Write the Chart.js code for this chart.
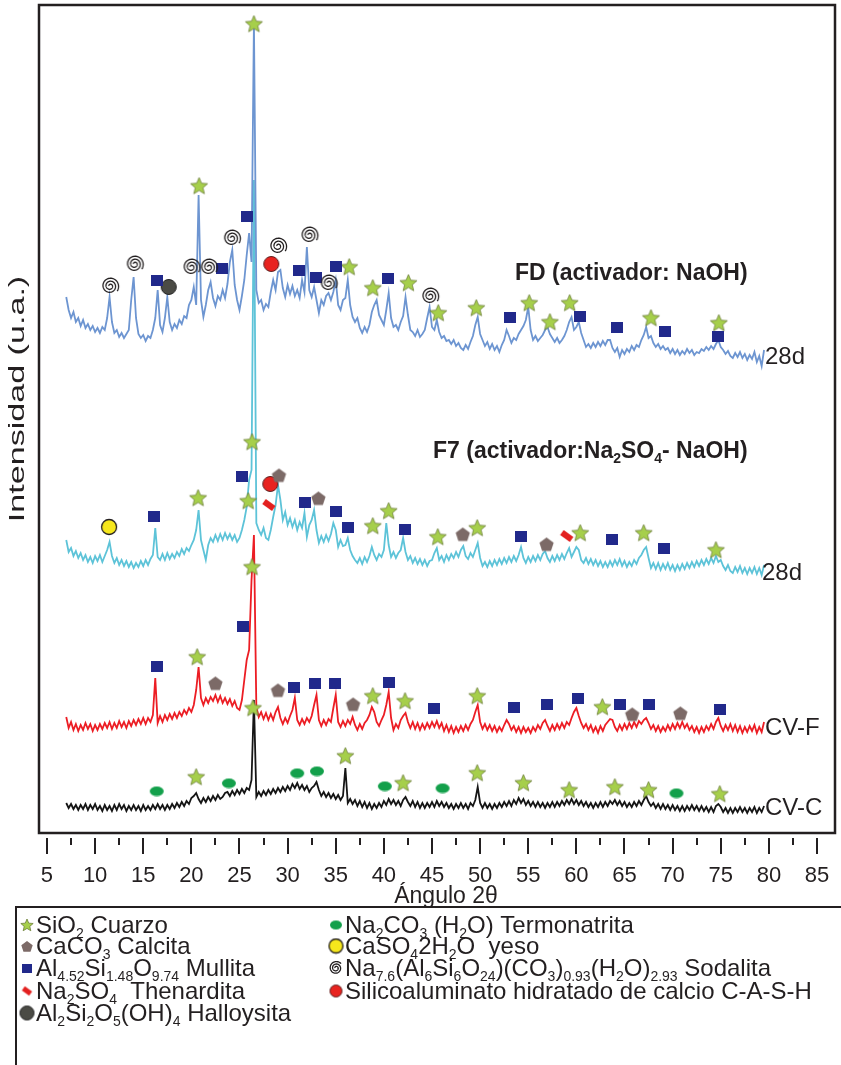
<!DOCTYPE html>
<html>
<head>
<meta charset="utf-8">
<script src="https://cdn.jsdelivr.net/npm/chart.js@4.4.1/dist/chart.umd.min.js"></script>
<style>
  html, body { margin: 0; padding: 0; background: #fff; }
  #xrd { display: block; }
</style>
</head>
<body>
<canvas id="xrd" width="841" height="1065"></canvas>
<script>
// scan grid of the diffractograms (2theta, degrees)
const scanStart = 7.0;
const scanStep = 0.25;

// intensities (u.a., already stacked), one value per step, 20 values = 5 degrees per row
const fdNaOH = [
  536,523,515,521,511,515,507,513,505,509,503,507,501,505,500,506,503,515,536,511,
  500,503,496,500,495,499,503,533,556,515,499,495,498,492,497,495,503,515,543,508,
  501,515,536,511,503,509,505,513,509,517,515,528,533,546,528,638,533,516,528,543,
  551,535,527,537,533,543,535,549,571,583,548,533,523,537,553,578,600,571,811,543,
  530,533,523,529,526,541,553,543,561,563,545,536,548,539,547,537,543,535,553,541,
  586,543,536,546,533,520,533,528,537,540,533,541,553,528,523,533,535,553,528,516,
  511,515,505,500,506,501,508,521,528,533,518,513,508,523,540,515,506,508,503,511,
  517,536,518,503,501,497,503,496,499,503,515,526,506,503,513,501,495,497,492,493,
  489,493,487,490,485,483,488,484,491,497,508,516,499,493,487,491,484,489,483,487,
  481,488,493,503,497,490,495,493,499,503,507,513,526,503,493,497,492,495,498,503,
  506,499,495,491,495,490,493,497,503,511,516,503,506,511,500,493,486,489,485,490,
  486,491,487,492,488,493,493,485,481,485,476,483,479,484,481,487,483,488,486,493,
  498,506,495,497,490,486,489,484,487,483,485,480,484,479,483,478,482,479,484,480,
  483,478,481,480,484,482,486,483,487,484,489,493,486,483,479,482,477,475,480,476,
  481,475,479,473,478,474,481,471,477,467,483
];
const f7Na2SO4 = [
  293,281,285,277,282,275,280,273,278,271,276,270,277,272,278,271,277,283,291,277,
  270,275,268,273,267,272,266,271,265,270,266,272,267,273,268,274,278,305,276,273,
  279,273,280,274,279,275,281,277,284,279,285,282,288,293,303,323,293,283,273,288,
  295,291,298,292,299,293,300,294,299,293,298,291,295,303,313,326,353,363,653,310,
  303,298,305,295,293,303,316,328,348,333,313,321,308,315,306,313,303,311,305,320,
  296,308,313,323,303,290,297,291,298,292,299,310,303,286,293,287,288,295,283,277,
  273,270,275,269,276,271,277,286,278,273,279,276,283,310,288,276,281,275,280,283,
  295,281,273,277,270,275,269,274,268,273,267,272,273,280,285,273,277,271,278,273,
  279,275,281,276,283,287,277,274,280,276,283,290,275,267,271,266,272,267,273,268,
  274,269,275,270,276,271,277,272,278,286,275,270,276,271,277,272,278,273,279,282,
  275,271,277,272,278,273,279,274,280,285,276,281,286,283,273,270,275,269,274,268,
  273,267,272,266,271,266,272,267,273,268,274,267,272,266,271,267,273,269,275,278,
  283,286,275,265,270,264,270,263,269,264,270,263,268,262,268,263,269,264,270,265,
  271,266,272,267,273,268,274,269,275,270,277,271,273,267,263,268,262,260,266,261,
  267,260,265,259,265,260,266,259,265,258,268
];
const cvF = [
  116,105,111,103,109,102,108,103,110,104,109,102,108,103,109,104,110,105,111,104,
  110,105,112,106,111,105,112,107,113,108,114,109,115,109,115,111,118,155,110,117,
  111,118,113,119,114,120,115,121,117,123,119,125,121,128,143,166,135,128,135,130,
  136,132,138,131,137,130,135,129,134,127,132,125,123,133,153,173,183,253,298,126,
  116,121,114,120,113,119,113,121,126,115,109,115,110,117,123,135,113,108,114,109,
  115,111,117,128,138,113,107,113,108,114,111,125,138,111,106,112,107,113,109,116,
  108,103,109,104,110,113,118,126,121,111,107,113,118,128,141,115,103,109,105,113,
  117,120,111,105,111,104,110,103,109,104,110,105,111,106,112,105,110,102,108,101,
  107,100,106,101,107,102,108,103,109,113,121,128,111,104,109,103,108,102,107,101,
  106,102,108,113,109,103,107,101,106,100,106,101,105,100,106,102,108,104,110,113,
  107,102,108,103,109,104,110,105,111,108,115,121,125,117,110,105,109,103,108,101,
  106,100,107,102,108,111,114,113,106,102,108,103,109,104,110,105,111,106,112,109,
  113,115,110,104,108,102,107,101,106,102,108,103,109,104,110,105,111,105,109,103,
  107,101,106,100,106,101,107,103,109,104,111,115,107,102,108,103,109,102,108,101,
  107,100,106,101,107,102,108,100,106,101,111
];
const cvC = [
  30,25,29,24,28,23,28,24,29,23,28,24,29,23,27,22,28,23,27,22,
  28,23,29,24,28,22,27,23,28,23,27,22,28,23,27,23,28,24,29,24,
  28,23,28,24,29,25,30,26,31,27,32,29,35,37,40,34,30,35,31,36,
  32,37,33,38,34,36,40,41,37,42,38,43,39,44,40,45,43,53,133,36,
  41,37,42,38,43,39,44,40,45,41,46,42,47,43,49,45,50,44,48,43,
  47,41,45,47,51,43,37,41,36,40,35,39,34,38,33,37,65,30,34,29,
  33,27,32,26,31,25,30,24,29,25,30,26,32,28,34,29,33,28,32,27,
  33,36,31,27,32,26,31,25,30,25,30,26,31,26,32,27,31,26,30,25,
  29,24,29,25,30,25,29,24,30,27,33,46,30,25,30,25,29,24,29,25,
  30,26,31,27,32,27,33,29,35,30,34,28,32,27,31,26,31,26,30,25,
  30,26,31,26,31,27,32,28,33,29,34,29,33,28,32,27,31,26,30,25,
  30,26,31,26,31,27,32,29,33,28,32,27,31,26,30,26,31,27,32,28,
  33,37,31,27,30,25,29,24,29,24,28,23,28,23,27,22,27,22,27,23,
  28,23,27,22,27,22,26,21,26,21,27,29,26,21,25,20,25,20,25,21,
  26,21,25,20,25,21,26,20,25,21,27
];

// phase identification marks [2theta, u.a.]
const cuarzo = [
  [26.5,809],[20.8,647],[36.4,566],[38.85,545],[42.55,550],[45.65,520],[49.6,525],[55.1,530],
  [57.25,511],[59.3,530],[67.75,515],[74.8,510],
  [20.7,335],[26.3,391],[25.9,332],[38.85,307],[40.5,322],[45.6,296],[49.7,305],[60.4,300],
  [67.0,300],[74.5,283],
  [20.6,176],[26.3,266],[38.85,137],[42.2,132],[49.7,137],[62.7,126],
  [20.5,56],[26.4,125],[36.0,77],[42.0,50],[49.7,60],[54.5,50],[59.25,43],[64.0,46],[67.5,43],[74.9,39]
];
const mullita = [
  [25.75,617],[23.2,565],[31.15,563],[32.95,556],[35.05,567],[40.45,555],[16.45,553],[53.1,516],
  [60.4,517],[64.25,506],[69.2,502],[74.75,497],
  [16.1,317],[25.3,357],[31.85,331],[35.0,322],[36.25,306],[42.15,304],[54.25,297],[63.7,294],[69.15,285],
  [16.4,167],[25.35,207],[30.7,146],[32.8,150],[34.9,150],[40.55,151],[45.2,125],[53.55,126],
  [57.0,129],[60.15,135],[64.55,129],[67.5,129],[74.9,124]
];
const calcita = [
  [29.1,358],[33.2,335],[48.2,299],[56.9,289],
  [22.5,150],[29.0,143],[36.8,129],[65.8,119],[70.8,120]
];
const thenardita = [[28.05,328],[59.0,297]];
const sodalita = [
  [11.55,547],[14.1,569],[20.0,566],[21.8,566],[24.2,595],[29.0,587],[32.25,598],[34.25,550],[44.8,537]
];
const cash = [[28.3,569],[28.2,349]];
const halloysita = [[17.65,546]];
const yeso = [[11.45,306]];
const termonatrita = [
  [16.4,42],[23.9,50],[31.0,60],[33.05,62],[40.1,47],[46.1,45],[70.4,40]
];

const angleTicks = [5,10,15,20,25,30,35,40,45,50,55,60,65,70,75,80,85];

const FONT = "'Liberation Sans', Arial, Helvetica, sans-serif";
const INK = '#231f20';

// ---- marker glyphs ----
function mk(w, h) {
  const c = document.createElement('canvas');
  c.width = w; c.height = h;
  return c;
}
function starGlyph(r) {
  const s = Math.ceil(r * 2 + 3), c = mk(s, s), g = c.getContext('2d');
  g.translate(s / 2, s / 2 + 0.5);
  g.beginPath();
  for (let i = 0; i < 10; i++) {
    const rr = i % 2 ? r * 0.45 : r;
    const a = -Math.PI / 2 + i * Math.PI / 5;
    g.lineTo(rr * Math.cos(a), rr * Math.sin(a));
  }
  g.closePath();
  g.fillStyle = '#a6cf4b'; g.fill();
  g.strokeStyle = '#6c7d3a'; g.lineWidth = 0.8; g.stroke();
  return c;
}
function boxGlyph(w, h) {
  const c = mk(w, h), g = c.getContext('2d');
  g.fillStyle = '#21298b'; g.fillRect(0, 0, w, h);
  return c;
}
function pentaGlyph(r) {
  const s = Math.ceil(r * 2 + 2), c = mk(s, s), g = c.getContext('2d');
  g.translate(s / 2, s / 2 + 1);
  g.beginPath();
  for (let i = 0; i < 5; i++) {
    const a = -Math.PI / 2 + i * 2 * Math.PI / 5;
    g.lineTo(r * Math.cos(a), r * Math.sin(a));
  }
  g.closePath();
  g.fillStyle = '#7c6a67'; g.fill();
  return c;
}
function dotGlyph(r, fill, stroke, lw) {
  const s = Math.ceil(r * 2 + 3), c = mk(s, s), g = c.getContext('2d');
  g.beginPath(); g.arc(s / 2, s / 2, r, 0, Math.PI * 2);
  g.fillStyle = fill; g.fill();
  if (stroke) { g.strokeStyle = stroke; g.lineWidth = lw; g.stroke(); }
  return c;
}
function ovalGlyph(rx, ry) {
  const c = mk(rx * 2 + 2, ry * 2 + 2), g = c.getContext('2d');
  g.beginPath(); g.ellipse(rx + 1, ry + 1, rx, ry, 0, 0, Math.PI * 2);
  g.fillStyle = '#13a04b'; g.fill();
  return c;
}
function tiltGlyph(w, h) {
  const s = Math.ceil(Math.hypot(w, h) + 2), c = mk(s, s), g = c.getContext('2d');
  g.translate(s / 2, s / 2);
  g.rotate(Math.PI / 5);
  g.fillStyle = '#e3201f'; g.fillRect(-w / 2, -h / 2, w, h);
  return c;
}
function spiralGlyph(turns, grow) {
  const rmax = 1 + turns * 2 * Math.PI * grow;
  const s = Math.ceil(rmax * 2 + 4), c = mk(s, s), g = c.getContext('2d');
  g.strokeStyle = INK; g.lineWidth = 1.3;
  g.beginPath();
  for (let t = 0; t <= turns * 2 * Math.PI; t += 0.12) {
    const r = 1 + t * grow;
    g.lineTo(s / 2 + r * Math.cos(t + Math.PI), s / 2 + r * Math.sin(t + Math.PI));
  }
  g.stroke();
  return c;
}

const glyph = {
  star: starGlyph(9), box: boxGlyph(12, 11), penta: pentaGlyph(7.5),
  tilt: tiltGlyph(12, 6), spiral: spiralGlyph(2.6, 0.48),
  cash: dotGlyph(7.5, '#e8231f', '#5a1d1d', 1), hall: dotGlyph(7.5, '#4b4b45', '#222', 1),
  yeso: dotGlyph(7.5, '#f6e71c', INK, 1.3), oval: ovalGlyph(7, 4.8)
};
const legendGlyph = {
  star: starGlyph(6.5), box: boxGlyph(10, 9), penta: pentaGlyph(6),
  tilt: tiltGlyph(9, 5), spiral: spiralGlyph(2.4, 0.38),
  cash: dotGlyph(6, '#e8231f', '#5a1d1d', 1), hall: dotGlyph(7, '#4b4b45', '#222', 1),
  yeso: dotGlyph(7, '#f6e71c', INK, 1.3), oval: ovalGlyph(6, 4.5)
};

// ---- legend entries ----
const legendLeft = [
  ['star', [['SiO'], ['2', 1], [' Cuarzo']]],
  ['penta', [['CaCO'], ['3', 1], [' Calcita']]],
  ['box', [['Al'], ['4.52', 1], ['Si'], ['1.48', 1], ['O'], ['9.74', 1], [' Mullita']]],
  ['tilt', [['Na'], ['2', 1], ['SO'], ['4', 1], ['  Thenardita']]],
  ['hall', [['Al'], ['2', 1], ['Si'], ['2', 1], ['O'], ['5', 1], ['(OH)'], ['4', 1], [' Halloysita']]]
];
const legendRight = [
  ['oval', [['Na'], ['2', 1], ['CO'], ['3', 1], [' (H'], ['2', 1], ['O) Termonatrita']]],
  ['yeso', [['CaSO'], ['4', 1], ['2H'], ['2', 1], ['O  yeso']]],
  ['spiral', [['Na'], ['7.6', 1], ['(Al'], ['6', 1], ['Si'], ['6', 1], ['O'], ['24', 1], [')(CO'], ['3', 1], [')'], ['0.93', 1], ['(H'], ['2', 1], ['O)'], ['2.93', 1], [' Sodalita']]],
  ['cash', [['Silicoaluminato hidratado de calcio C-A-S-H']]]
];

function rich(ctx, parts, x, y, size, bold) {
  let cx = x;
  for (const [t, sub] of parts) {
    const s = sub ? Math.round(size * 0.6) : size;
    ctx.font = (bold ? 'bold ' : '') + s + 'px ' + FONT;
    ctx.fillText(t, cx, sub ? y + size * 0.2 : y);
    cx += ctx.measureText(t).width;
  }
  return cx;
}

const decor = {
  id: 'decor',
  afterDraw(chart) {
    const ctx = chart.ctx, a = chart.chartArea, xs = chart.scales.x;
    ctx.save();
    // frame
    ctx.strokeStyle = INK; ctx.lineWidth = 2.5;
    ctx.strokeRect(a.left, a.top, a.right - a.left, a.bottom - a.top);
    // major / minor ticks below the frame
    ctx.lineWidth = 2;
    angleTicks.forEach((v, i) => {
      const px = Math.round(xs.getPixelForValue(v));
      ctx.beginPath(); ctx.moveTo(px, a.bottom + 5); ctx.lineTo(px, a.bottom + 21); ctx.stroke();
      if (i < angleTicks.length - 1) {
        const mx = Math.round(xs.getPixelForValue((v + angleTicks[i + 1]) / 2));
        ctx.beginPath(); ctx.moveTo(mx, a.bottom + 5); ctx.lineTo(mx, a.bottom + 12); ctx.stroke();
      }
    });
    ctx.fillStyle = INK;
    // axis titles
    ctx.font = '23px ' + FONT; ctx.textAlign = 'center'; ctx.textBaseline = 'middle';
    ctx.fillText('Ángulo 2θ', 446, 897);
    ctx.save(); ctx.translate(18, 399); ctx.rotate(-Math.PI / 2); ctx.scale(1.55, 1);
    ctx.font = '22px ' + FONT;
    ctx.fillText('Intensidad (u.a.)', 0, 0); ctx.restore();
    // curve tags
    ctx.textAlign = 'left'; ctx.font = '24px ' + FONT;
    ctx.fillText('28d', 765, 357);
    ctx.fillText('28d', 762, 573);
    ctx.fillText('CV-F', 765, 728);
    ctx.fillText('CV-C', 765, 808);
    ctx.textBaseline = 'alphabetic';
    rich(ctx, [['FD (activador: NaOH)']], 515, 280, 23, true);
    rich(ctx, [['F7 (activador:Na'], ['2', 1], ['SO'], ['4', 1], ['- NaOH)']], 433, 458, 23, true);
    // legend
    ctx.lineWidth = 2;
    ctx.beginPath(); ctx.moveTo(841, 907); ctx.lineTo(16, 907); ctx.lineTo(16, 1065); ctx.stroke();
    const rowsY = [925, 946, 968, 991, 1013];
    legendLeft.forEach(([g, parts], i) => {
      const im = legendGlyph[g];
      ctx.drawImage(im, 27 - im.width / 2, rowsY[i] - im.height / 2);
      rich(ctx, parts, 36, rowsY[i] + 8, 24, false);
    });
    legendRight.forEach(([g, parts], i) => {
      const im = legendGlyph[g];
      ctx.drawImage(im, 336 - im.width / 2, rowsY[i] - im.height / 2);
      rich(ctx, parts, 345, rowsY[i] + 8, 24, false);
    });
    ctx.restore();
  }
};

const trace = arr => arr.map((v, i) => ({ x: scanStart + i * scanStep, y: v }));
const marks = arr => arr.map(([x, y]) => ({ x, y }));

function lineSet(label, arr, color, order) {
  return { type: 'line', label, data: trace(arr), borderColor: color, borderWidth: 1.8,
           pointRadius: 0, tension: 0, fill: false, order };
}
function markSet(label, arr, style) {
  return { type: 'scatter', label, data: marks(arr), pointStyle: glyph[style],
           pointRadius: 8, showLine: false, order: 0 };
}

new Chart(document.getElementById('xrd').getContext('2d'), {
  type: 'line',
  data: {
    datasets: [
      markSet('Sodalita', sodalita, 'spiral'),
      markSet('Mullita', mullita, 'box'),
      markSet('Calcita', calcita, 'penta'),
      markSet('Thenardita', thenardita, 'tilt'),
      markSet('C-A-S-H', cash, 'cash'),
      markSet('Halloysita', halloysita, 'hall'),
      markSet('Yeso', yeso, 'yeso'),
      markSet('Termonatrita', termonatrita, 'oval'),
      markSet('Cuarzo', cuarzo, 'star'),
      lineSet('FD', fdNaOH, '#6d95d1', 1),
      lineSet('F7', f7Na2SO4, '#5dc3d8', 2),
      lineSet('CV-F', cvF, '#ec1d24', 3),
      lineSet('CV-C', cvC, '#151515', 4)
    ]
  },
  options: {
    responsive: false,
    animation: false,
    layout: { autoPadding: false, padding: { left: 39, right: 6, top: 5, bottom: 0 } },
    plugins: { legend: { display: false }, tooltip: { enabled: false } },
    scales: {
      x: {
        type: 'linear', min: 4.17, max: 86.87,
        afterBuildTicks: s => { s.ticks = angleTicks.map(v => ({ value: v })); },
        afterFit: s => { s.height = 232; s.paddingLeft = 0; s.paddingRight = 0; },
        grid: { display: false, drawTicks: false },
        border: { display: false },
        ticks: { padding: 30, color: INK, font: { family: FONT, size: 22 }, maxRotation: 0 }
      },
      y: { display: false, min: 0, max: 828 }
    }
  },
  plugins: [decor]
});
</script>
</body>
</html>
